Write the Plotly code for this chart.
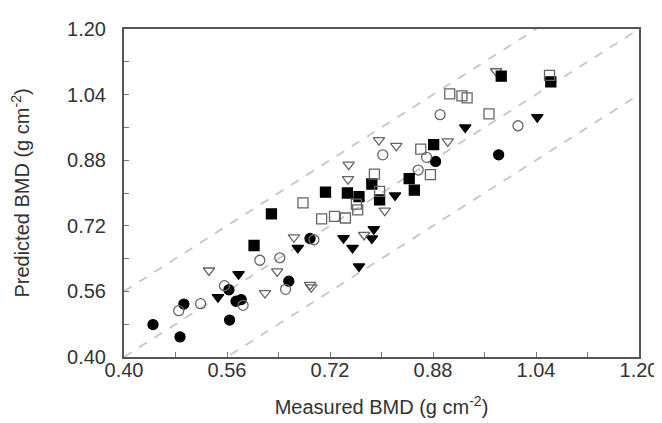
import plotly.graph_objects as go

# measured (x) and predicted (y) BMD, g cm-2
fc_x = [0.445, 0.487, 0.493, 0.563, 0.564, 0.574, 0.582, 0.656, 0.689, 0.884, 0.982]
fc_y = [0.479, 0.449, 0.529, 0.564, 0.490, 0.536, 0.540, 0.585, 0.689, 0.877, 0.893]

oc_x = [0.485, 0.519, 0.556, 0.585, 0.611, 0.642, 0.651, 0.695, 0.802, 0.857, 0.870, 0.891, 1.012]
oc_y = [0.513, 0.530, 0.574, 0.526, 0.636, 0.642, 0.565, 0.686, 0.893, 0.856, 0.887, 0.991, 0.964]

ft_x = [0.546, 0.578, 0.670, 0.741, 0.755, 0.765, 0.785, 0.788, 0.821, 0.930, 1.042]
ft_y = [0.546, 0.602, 0.666, 0.690, 0.666, 0.621, 0.689, 0.712, 0.794, 0.960, 0.985]

ot_x = [0.532, 0.619, 0.638, 0.664, 0.689, 0.691, 0.773, 0.749, 0.748, 0.796, 0.823, 0.805, 0.903, 0.978]
ot_y = [0.611, 0.556, 0.609, 0.692, 0.576, 0.570, 0.698, 0.869, 0.834, 0.929, 0.915, 0.757, 0.926, 1.097]

fs_x = [0.602, 0.629, 0.713, 0.747, 0.765, 0.785, 0.797, 0.843, 0.851, 0.881, 0.986, 1.063]
fs_y = [0.672, 0.749, 0.802, 0.800, 0.791, 0.822, 0.783, 0.835, 0.807, 0.918, 1.085, 1.071]

os_x = [0.678, 0.707, 0.727, 0.744, 0.761, 0.763, 0.789, 0.797, 0.861, 0.876, 0.906, 0.925, 0.933, 0.967, 1.061]
os_y = [0.776, 0.737, 0.743, 0.739, 0.773, 0.759, 0.846, 0.804, 0.907, 0.845, 1.042, 1.037, 1.032, 0.993, 1.087]

# identity line and +/- offset lines
line_offsets = [-0.16, 0.0, 0.16]
axis_lo, axis_hi = 0.40, 1.20

fig = go.Figure()

for off in line_offsets:
    fig.add_trace(go.Scatter(x=[axis_lo, axis_hi], y=[axis_lo + off, axis_hi + off],
                             mode='lines', line=dict(color='#c6c6c6', width=1.8, dash='dash'),
                             hoverinfo='skip', showlegend=False))

series = [
    (fc_x, fc_y, 'circle', 'black'),
    (oc_x, oc_y, 'circle-open', '#666666'),
    (ft_x, ft_y, 'triangle-down', 'black'),
    (ot_x, ot_y, 'triangle-down-open', '#666666'),
    (fs_x, fs_y, 'square', 'black'),
    (os_x, os_y, 'square-open', '#666666'),
]
for xs, ys, sym, col in series:
    fig.add_trace(go.Scatter(x=xs, y=ys, mode='markers', showlegend=False,
                             marker=dict(symbol=sym, size=10, color=col,
                                         line=dict(color=col, width=1.3))))

font = dict(family='Liberation Sans, Arial', size=20, color='#333333')

axis_style = dict(range=[axis_lo, axis_hi], dtick=0.16, tick0=0.40, tickformat='.2f',
                  showgrid=False, zeroline=False, showline=True, mirror=True,
                  linecolor='#555555', linewidth=2, ticks='inside', ticklen=5,
                  tickcolor='#777777', tickwidth=1,
                  minor=dict(dtick=0.08, ticks='inside', ticklen=5, tickcolor='#777777'),
                  tickfont=font, automargin=False)

fig.update_xaxes(**axis_style, ticklabelstandoff=-6,
                 title=dict(text='Measured BMD (g cm<sup>-2</sup>)', standoff=20, font=font))
fig.update_yaxes(**axis_style, ticklabelstandoff=12,
                 title=dict(text='Predicted BMD (g cm<sup>-2</sup>)', standoff=32, font=font))

fig.update_layout(width=662, height=423, plot_bgcolor='white', paper_bgcolor='white',
                  margin=dict(l=116, r=31, t=21, b=74), showlegend=False)

fig.write_html("out.html")
